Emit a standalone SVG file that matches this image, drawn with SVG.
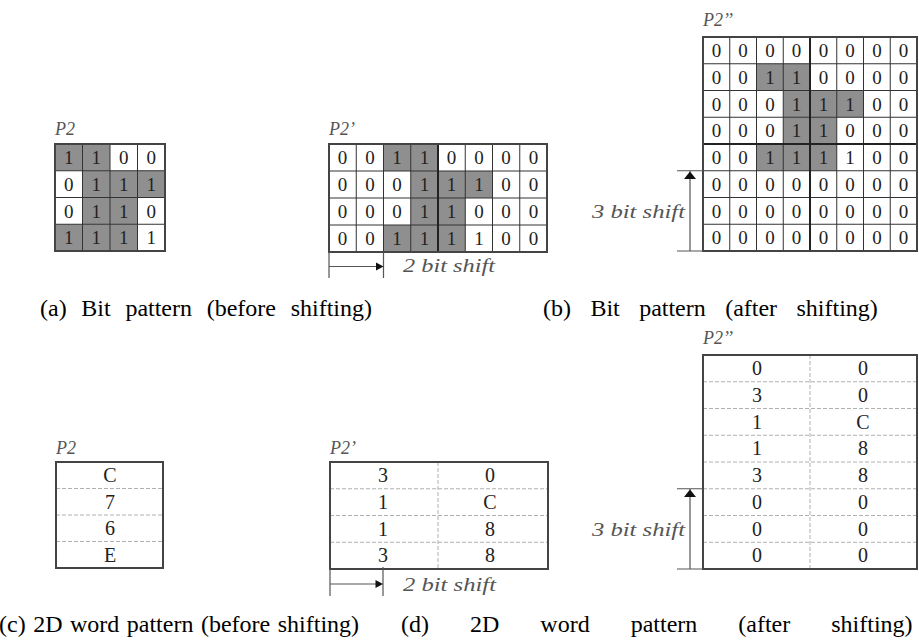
<svg xmlns="http://www.w3.org/2000/svg" width="919" height="643" viewBox="0 0 919 643">
  <style>
    .bg { fill: #ffffff; }
    .on { fill: #8f8f8f; }
    .grid { stroke: #333333; stroke-width: 1; fill: none; }
    .frame { stroke: #444444; stroke-width: 2; fill: none; }
    .thick { stroke: #222222; stroke-width: 2; fill: none; }
    .dash { stroke: #b0b0b0; stroke-width: 1; stroke-dasharray: 4 2; fill: none; }
    .dim { stroke: #555555; stroke-width: 1.2; fill: none; }
    .head { fill: #111111; }
    .cell { font-family: "Liberation Serif", "Times New Roman", serif; font-size: 19px; fill: #222222; text-anchor: middle; }
    .word { font-family: "Liberation Serif", "Times New Roman", serif; font-size: 20px; fill: #222222; text-anchor: middle; }
    .name { font-family: "Liberation Serif", "Times New Roman", serif; font-style: italic; font-size: 18px; fill: #555555; }
    .shift { font-family: "Liberation Serif", "Times New Roman", serif; font-style: italic; font-size: 19px; fill: #555555; }
    .cap { font-family: "Liberation Serif", "Times New Roman", serif; font-size: 24px; fill: #000000; }
  </style>

  <rect class="bg" x="0" y="0" width="919" height="643"/>

  <!-- (a) 4x4 bit pattern P2 -->
  <g id="bits-p2">
    <text class="name" x="55" y="135">P2</text>
    <rect class="on" x="55" y="144" width="55" height="26.75"/>
    <rect class="on" x="82.5" y="170.75" width="82.5" height="26.75"/>
    <rect class="on" x="82.5" y="197.5" width="55" height="26.75"/>
    <rect class="on" x="55" y="224.25" width="82.5" height="26.75"/>
    <path class="grid" d="M82.5 144V251M110 144V251M137.5 144V251M55 170.75H165M55 197.5H165M55 224.25H165"/>
    <rect class="frame" x="55" y="144" width="110" height="107"/>
    <text class="cell" x="68.75 96.25 123.75 151.25" y="164">1100</text>
    <text class="cell" x="68.75 96.25 123.75 151.25" y="190.7">0111</text>
    <text class="cell" x="68.75 96.25 123.75 151.25" y="217.5">0110</text>
    <text class="cell" x="68.75 96.25 123.75 151.25" y="244.2">1111</text>
  </g>

  <!-- (a) 4x8 bit pattern P2' after a 2 bit shift -->
  <g id="bits-p2-shifted">
    <text class="name" x="329" y="135">P2’</text>
    <rect class="on" x="383.5" y="144" width="54.5" height="27"/>
    <rect class="on" x="410.75" y="171" width="81.75" height="27"/>
    <rect class="on" x="410.75" y="198" width="54.5" height="27"/>
    <rect class="on" x="383.5" y="225" width="81.75" height="27"/>
    <path class="grid" d="M356.25 144V252M383.5 144V252M410.75 144V252M465.25 144V252M492.5 144V252M519.75 144V252M329 171H547M329 198H547M329 225H547"/>
    <path class="thick" d="M438 144V252"/>
    <rect class="frame" x="329" y="144" width="218" height="108"/>
    <text class="cell" x="342.6 369.9 397.1 424.4 451.6 478.9 506.1 533.4" y="164.1">00110000</text>
    <text class="cell" x="342.6 369.9 397.1 424.4 451.6 478.9 506.1 533.4" y="191.1">00011100</text>
    <text class="cell" x="342.6 369.9 397.1 424.4 451.6 478.9 506.1 533.4" y="218.1">00011000</text>
    <text class="cell" x="342.6 369.9 397.1 424.4 451.6 478.9 506.1 533.4" y="245.1">00111100</text>
  </g>

  <!-- (b) 8x8 bit pattern P2'' after a 3 bit shift -->
  <g id="bits-p2-shifted-twice">
    <text class="name" x="703" y="26">P2’’</text>
    <rect class="on" x="756.5" y="63.75" width="53.5" height="26.75"/>
    <rect class="on" x="783.25" y="90.5" width="80.25" height="26.75"/>
    <rect class="on" x="783.25" y="117.25" width="53.5" height="26.75"/>
    <rect class="on" x="756.5" y="144" width="80.25" height="26.75"/>
    <path class="grid" d="M729.75 37V251M756.5 37V251M783.25 37V251M836.75 37V251M863.5 37V251M890.25 37V251M703 63.75H917M703 90.5H917M703 117.25H917M703 170.75H917M703 197.5H917M703 224.25H917"/>
    <path class="thick" d="M810 37V251M703 144H917"/>
    <rect class="frame" x="703" y="37" width="214" height="214"/>
    <text class="cell" x="716.4 743.1 769.9 796.6 823.4 850.1 876.9 903.6" y="57">00000000</text>
    <text class="cell" x="716.4 743.1 769.9 796.6 823.4 850.1 876.9 903.6" y="83.7">00110000</text>
    <text class="cell" x="716.4 743.1 769.9 796.6 823.4 850.1 876.9 903.6" y="110.5">00011100</text>
    <text class="cell" x="716.4 743.1 769.9 796.6 823.4 850.1 876.9 903.6" y="137.2">00011000</text>
    <text class="cell" x="716.4 743.1 769.9 796.6 823.4 850.1 876.9 903.6" y="164">00111100</text>
    <text class="cell" x="716.4 743.1 769.9 796.6 823.4 850.1 876.9 903.6" y="190.7">00000000</text>
    <text class="cell" x="716.4 743.1 769.9 796.6 823.4 850.1 876.9 903.6" y="217.5">00000000</text>
    <text class="cell" x="716.4 743.1 769.9 796.6 823.4 850.1 876.9 903.6" y="244.2">00000000</text>
  </g>

  <!-- (c) word pattern P2 -->
  <g id="words-p2">
    <text class="name" x="56" y="454">P2</text>
    <path class="dash" d="M56 488.5H163M56 515H163M56 541.5H163"/>
    <rect class="frame" x="56" y="462" width="107" height="106"/>
    <text class="word" x="110" y="482">C</text>
    <text class="word" x="110" y="508.5">7</text>
    <text class="word" x="110" y="535">6</text>
    <text class="word" x="110" y="561.5">E</text>
  </g>

  <!-- (c) word pattern P2' -->
  <g id="words-p2-shifted">
    <text class="name" x="330" y="454">P2’</text>
    <path class="dash" d="M438 462V569M330 488.75H548M330 515.5H548M330 542.25H548"/>
    <rect class="frame" x="330" y="462" width="218" height="107"/>
    <text class="word" x="383 490" y="482">30</text>
    <text class="word" x="383 490" y="508.7">1C</text>
    <text class="word" x="383 490" y="535.5">18</text>
    <text class="word" x="383 490" y="562.2">38</text>
  </g>

  <!-- (d) word pattern P2'' -->
  <g id="words-p2-shifted-twice">
    <text class="name" x="703" y="344">P2’’</text>
    <path class="dash" d="M810 355V569M703 381.75H917M703 408.5H917M703 435.25H917M703 462H917M703 488.75H917M703 515.5H917M703 542.25H917"/>
    <rect class="frame" x="703" y="355" width="214" height="214"/>
    <text class="word" x="757 863" y="375">00</text>
    <text class="word" x="757 863" y="401.7">30</text>
    <text class="word" x="757 863" y="428.5">1C</text>
    <text class="word" x="757 863" y="455.2">18</text>
    <text class="word" x="757 863" y="482">38</text>
    <text class="word" x="757 863" y="508.7">00</text>
    <text class="word" x="757 863" y="535.5">00</text>
    <text class="word" x="757 863" y="562.2">00</text>
  </g>

  <!-- shift dimension markers -->
  <g id="connectors">
    <path class="dim" d="M329 252V278M383.5 252V278M329 266.5H378"/>
    <polygon class="head" points="383.5,266.5 376,262.5 376,270.5"/>
    <path class="dim" d="M677 170.75H703M677 251H703M690 171V251"/>
    <polygon class="head" points="690,171.5 684,179 696,179"/>
    <path class="dim" d="M330 569V596M383 567V596M330 584H378"/>
    <polygon class="head" points="383,584 375.5,580 375.5,588"/>
    <path class="dim" d="M677 488.75H703M677 569H703M690 489V569"/>
    <polygon class="head" points="690,489.5 684,497 696,497"/>
  </g>

  <g id="shift-labels">
    <text class="shift" x="403" y="272" textLength="92" lengthAdjust="spacingAndGlyphs">2 bit shift</text>
    <text class="shift" x="592" y="218" textLength="93" lengthAdjust="spacingAndGlyphs">3 bit shift</text>
    <text class="shift" x="403" y="591" textLength="93" lengthAdjust="spacingAndGlyphs">2 bit shift</text>
    <text class="shift" x="592" y="536" textLength="93" lengthAdjust="spacingAndGlyphs">3 bit shift</text>
  </g>

  <!-- justified sub-figure captions -->
  <g id="captions">
    <text class="cap" x="40" y="316" word-spacing="8.7">(a) Bit pattern (before shifting)</text>
    <text class="cap" x="543" y="316" word-spacing="13.4">(b) Bit pattern (after shifting)</text>
    <text class="cap" x="-1" y="632" word-spacing="1.5">(c) 2D word pattern (before shifting)</text>
    <text class="cap" x="401" y="632" word-spacing="35">(d) 2D word pattern (after shifting)</text>
  </g>
</svg>
